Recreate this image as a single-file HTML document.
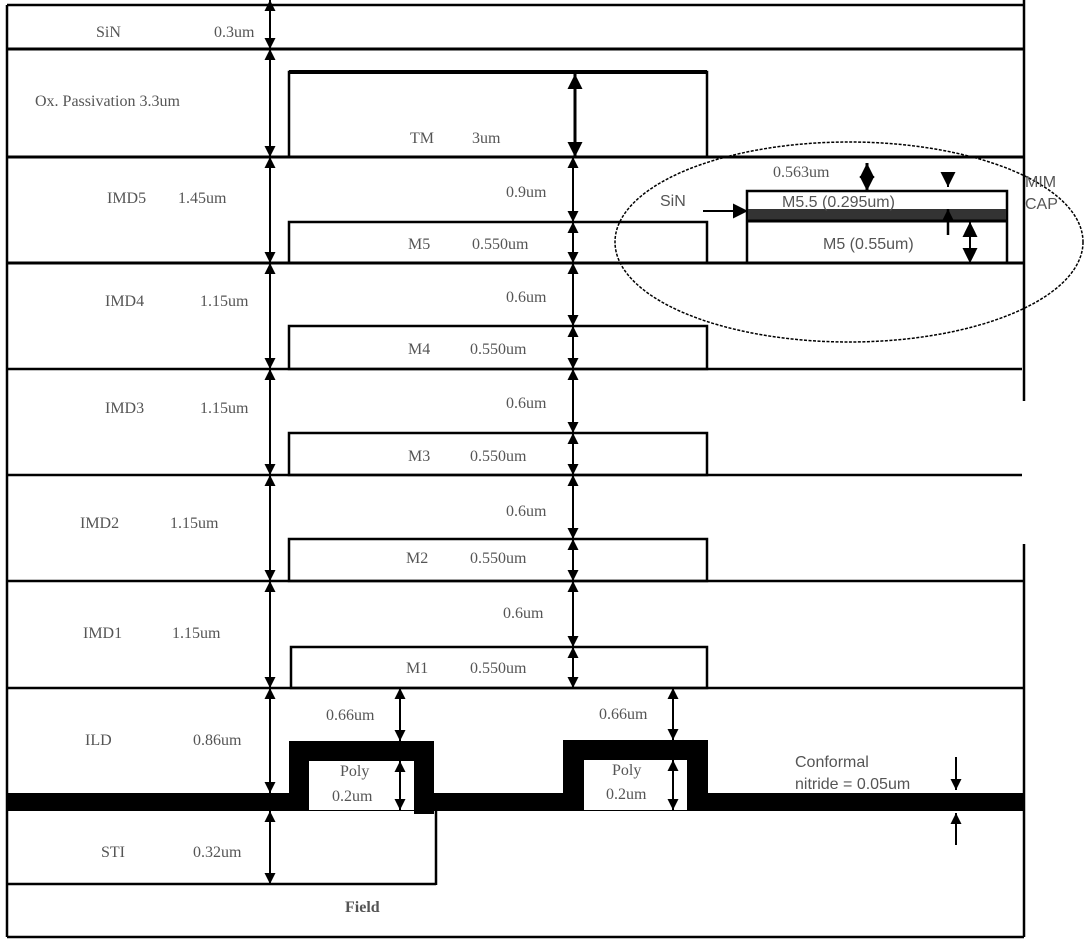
<!DOCTYPE html>
<html><head><style>
body{margin:0;background:#fff}
svg{display:block}
.t{font-family:"Liberation Serif",serif;font-size:16px;fill:#555}
.s{font-family:"Liberation Sans",sans-serif;font-size:16px;fill:#555}
</style></head><body>
<svg width="1087" height="946" viewBox="0 0 1087 946" xmlns="http://www.w3.org/2000/svg">
<defs>
<marker id="a" viewBox="0 0 10 10" refX="10" refY="5" markerWidth="11" markerHeight="11" orient="auto-start-reverse" markerUnits="userSpaceOnUse"><path d="M0,0L10,5L0,10z" fill="#000"/></marker>
<marker id="b" viewBox="0 0 10 10" refX="10" refY="5" markerWidth="17" markerHeight="15" orient="auto-start-reverse" markerUnits="userSpaceOnUse"><path d="M0,0L10,5L0,10z" fill="#000"/></marker>
</defs>
<g stroke="#000" fill="none">
<line x1="7" y1="5" x2="7" y2="937" stroke-width="2.5"/>
<line x1="1024" y1="0" x2="1024" y2="401" stroke-width="2.5"/>
<line x1="1024" y1="544" x2="1024" y2="937" stroke-width="2.5"/>
<line x1="7" y1="5" x2="1024" y2="5" stroke-width="2.5"/>
<line x1="7" y1="49" x2="1024" y2="49" stroke-width="3"/>
<line x1="7" y1="157" x2="1024" y2="157" stroke-width="3"/>
<line x1="7" y1="263" x2="1024" y2="263" stroke-width="3"/>
<line x1="7" y1="369" x2="1022" y2="369" stroke-width="2.5"/>
<line x1="7" y1="475" x2="1022" y2="475" stroke-width="2.5"/>
<line x1="7" y1="581" x2="1024" y2="581" stroke-width="2.5"/>
<line x1="7" y1="688" x2="1024" y2="688" stroke-width="2.5"/>
<line x1="7" y1="937" x2="1024" y2="937" stroke-width="2.5"/>
<rect x="289" y="72" width="418" height="85" stroke-width="2.5"/>
<line x1="289" y1="72" x2="707" y2="72" stroke-width="4"/>
<rect x="289" y="222" width="418" height="41" stroke-width="2.5"/>
<rect x="289" y="326" width="418" height="43" stroke-width="2.5"/>
<rect x="289" y="433" width="418" height="42" stroke-width="2.5"/>
<rect x="289" y="539" width="418" height="42" stroke-width="2.5"/>
<rect x="291" y="647" width="416" height="41" stroke-width="2.5"/>
<g stroke-width="2" marker-start="url(#a)" marker-end="url(#a)">
<line x1="270" y1="0" x2="270" y2="49"/>
<line x1="270" y1="49" x2="270" y2="157"/>
<line x1="270" y1="157" x2="270" y2="263"/>
<line x1="270" y1="263" x2="270" y2="369"/>
<line x1="270" y1="369" x2="270" y2="475"/>
<line x1="270" y1="475" x2="270" y2="581"/>
<line x1="270" y1="581" x2="270" y2="688"/>
<line x1="270" y1="688" x2="270" y2="793"/>
<line x1="270" y1="811" x2="270" y2="884"/>
<line x1="573" y1="157" x2="573" y2="222"/>
<line x1="573" y1="222" x2="573" y2="263"/>
<line x1="573" y1="263" x2="573" y2="326"/>
<line x1="573" y1="326" x2="573" y2="369"/>
<line x1="573" y1="369" x2="573" y2="433"/>
<line x1="573" y1="433" x2="573" y2="475"/>
<line x1="573" y1="475" x2="573" y2="539"/>
<line x1="573" y1="539" x2="573" y2="581"/>
<line x1="573" y1="581" x2="573" y2="647"/>
<line x1="573" y1="647" x2="573" y2="688"/>
<line x1="400" y1="688" x2="400" y2="741"/>
<line x1="673" y1="688" x2="673" y2="740"/>
<line x1="970" y1="222" x2="970" y2="263"/>
</g>
<line x1="867" y1="163" x2="867" y2="191" stroke-width="3" marker-start="url(#b)" marker-end="url(#b)"/>
<line x1="575" y1="74" x2="575" y2="157" stroke-width="3" marker-start="url(#b)" marker-end="url(#b)"/>
<ellipse cx="849" cy="242" rx="234" ry="100" stroke-width="1.5" stroke-dasharray="3,1.5"/>
<rect x="747" y="191" width="260" height="72" stroke-width="2.5"/>
<rect x="748" y="209" width="258" height="13" fill="#333" stroke="none"/>
<line x1="748" y1="221" x2="1006" y2="221" stroke-width="3"/>
<line x1="703" y1="211" x2="748" y2="211" stroke-width="2" marker-end="url(#b)"/>
<line x1="948" y1="172" x2="948" y2="187" stroke-width="2" marker-end="url(#b)"/>
<line x1="948" y1="235" x2="948" y2="209" stroke-width="2.5" marker-end="url(#a)"/>
<line x1="970" y1="222" x2="970" y2="263" stroke-width="2" marker-start="url(#b)" marker-end="url(#b)"/>
<line x1="7" y1="884" x2="436" y2="884" stroke-width="2.5"/>
<line x1="436" y1="811" x2="436" y2="885" stroke-width="2.5"/>
<line x1="956" y1="757" x2="956" y2="790" stroke-width="2" marker-end="url(#a)"/>
<line x1="956" y1="845" x2="956" y2="813" stroke-width="2" marker-end="url(#a)"/>
</g>
<g fill="#000">
<rect x="7" y="793" width="1017" height="18"/>
<rect x="289" y="741" width="145" height="20"/>
<rect x="289" y="741" width="20" height="70"/>
<rect x="414" y="741" width="20" height="73"/>
<rect x="563" y="740" width="145" height="20"/>
<rect x="563" y="740" width="21" height="70"/>
<rect x="687" y="740" width="21" height="70"/>
</g>
<rect x="309" y="761" width="105" height="49" fill="#fff"/>
<rect x="584" y="760" width="103" height="50" fill="#fff"/>
<g stroke="#000" stroke-width="2" marker-start="url(#a)" marker-end="url(#a)">
<line x1="400" y1="761" x2="400" y2="810"/>
<line x1="673" y1="760" x2="673" y2="810"/>
</g>
<g class="t">
<text x="96" y="37">SiN</text><text x="214" y="37">0.3um</text>
<text x="35" y="106">Ox. Passivation  3.3um</text>
<text x="410" y="143">TM</text><text x="472" y="143">3um</text>
<text x="107" y="203">IMD5</text><text x="178" y="203">1.45um</text>
<text x="506" y="197">0.9um</text>
<text x="408" y="249">M5</text><text x="472" y="249">0.550um</text>
<text x="105" y="306">IMD4</text><text x="200" y="306">1.15um</text>
<text x="506" y="302">0.6um</text>
<text x="408" y="354">M4</text><text x="470" y="354">0.550um</text>
<text x="105" y="413">IMD3</text><text x="200" y="413">1.15um</text>
<text x="506" y="408">0.6um</text>
<text x="408" y="461">M3</text><text x="470" y="461">0.550um</text>
<text x="80" y="528">IMD2</text><text x="170" y="528">1.15um</text>
<text x="506" y="516">0.6um</text>
<text x="406" y="563">M2</text><text x="470" y="563">0.550um</text>
<text x="83" y="638">IMD1</text><text x="172" y="638">1.15um</text>
<text x="503" y="618">0.6um</text>
<text x="406" y="673">M1</text><text x="470" y="673">0.550um</text>
<text x="85" y="745">ILD</text><text x="193" y="745">0.86um</text>
<text x="326" y="720">0.66um</text><text x="599" y="719">0.66um</text>
<text x="340" y="776">Poly</text><text x="332" y="801">0.2um</text>
<text x="612" y="775">Poly</text><text x="606" y="799">0.2um</text>
<text x="101" y="857">STI</text><text x="193" y="857">0.32um</text>
<text x="345" y="912" font-weight="bold">Field</text>
<text x="773" y="177">0.563um</text>
</g>
<g class="s">
<text x="660" y="206">SiN</text>
<text x="782" y="207">M5.5 (0.295um)</text>
<text x="823" y="249">M5 (0.55um)</text>
<text x="1025" y="187">MIM</text><text x="1025" y="209">CAP</text>
<text x="795" y="767">Conformal</text>
<text x="795" y="789">nitride = 0.05um</text>
</g>
</svg>
</body></html>
